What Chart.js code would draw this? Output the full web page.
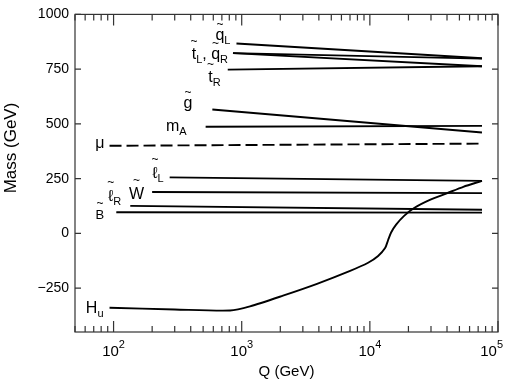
<!DOCTYPE html>
<html>
<head>
<meta charset="utf-8">
<script src="https://cdn.jsdelivr.net/npm/chart.js@4.4.0/dist/chart.umd.min.js"></script>
<style>
  html, body { margin: 0; padding: 0; background: #fff; }
  #wrap { width: 505px; height: 381px; }
</style>
</head>
<body>
<div id="wrap"><canvas id="massChart"></canvas></div>
<script>
  // running masses vs. scale Q
  const qL_Q = [910, 75000];
  const qL_M = [867, 800];
  const qR_Q = [855, 75000];
  const qR_M = [823, 798];
  const tL_Q = [855, 75000];
  const tL_M = [823, 763];
  const tR_Q = [778, 75000];
  const tR_M = [748, 763];
  const gluino_Q = [590, 75000];
  const gluino_M = [566, 461];
  const mA_Q = [523, 75000];
  const mA_M = [487, 491];
  const mu_Q = [93, 75000];
  const mu_M = [400, 410];
  const lL_Q = [274, 75000];
  const lL_M = [256, 240];
  const wino_Q = [200, 75000];
  const wino_M = [189, 184];
  const lR_Q = [135, 75000];
  const lR_M = [126, 108];
  const bino_Q = [105, 75000];
  const bino_M = [97, 95];
  const hu_Q = [93, 300, 811, 1160, 2100, 3870, 7015, 9690, 11600, 13150, 13870, 14650, 16030, 18500, 22150, 29400, 39800, 53600, 75000];
  const hu_M = [-339, -347, -352, -333, -284, -230, -171, -134, -103, -67, -31, 4, 40, 80, 116, 153, 183, 213, 240];

  const yTicks = [-250, 0, 250, 500, 750, 1000];
  const xDecades = [2, 3, 4, 5];

  const FONT = '"Liberation Sans", Arial, Helvetica, sans-serif';

  function pts(qs, ms) {
    return qs.map((q, i) => ({ x: q, y: ms[i] }));
  }

  function curve(name, qs, ms, extra) {
    return Object.assign({
      label: name,
      data: pts(qs, ms),
      borderColor: "#000",
      borderWidth: 1.9,
      pointRadius: 0,
      tension: 0,
      fill: false
    }, extra || {});
  }

  const datasets = [
    curve("qL", qL_Q, qL_M),
    curve("qR", qR_Q, qR_M),
    curve("tL", tL_Q, tL_M),
    curve("tR", tR_Q, tR_M),
    curve("gluino", gluino_Q, gluino_M),
    curve("mA", mA_Q, mA_M),
    curve("mu", mu_Q, mu_M, { borderDash: [12, 5] }),
    curve("lL", lL_Q, lL_M),
    curve("wino", wino_Q, wino_M),
    curve("lR", lR_Q, lR_M),
    curve("bino", bino_Q, bino_M),
    curve("Hu", hu_Q, hu_M, { tension: 0.25 })
  ];

  // labels next to the left end of each line: dx = right edge, dy = baseline (px)
  const curveLabels = [
    { ds: 0, dx: -6, dy: -4, parts: [{ t: "q", tilde: 12 }, { t: "L", sub: true }] },
    { ds: 1, dx: -5, dy: 6, parts: [{ t: "t", tilde: 14 }, { t: "L", sub: true }, { t: ", " }, { t: "q", tilde: 12 }, { t: "R", sub: true }] },
    { ds: 3, dx: -7, dy: 12, parts: [{ t: "t", tilde: 14 }, { t: "R", sub: true }] },
    { ds: 4, dx: -20, dy: -1, parts: [{ t: "g", tilde: 12 }] },
    { ds: 5, dx: -19, dy: 4, parts: [{ t: "m" }, { t: "A", sub: true }] },
    { ds: 6, dx: -5, dy: 2, parts: [{ t: "μ" }] },
    { ds: 7, dx: -6, dy: 1, parts: [{ t: "ℓ", tilde: 15 }, { t: "L", sub: true }] },
    { ds: 8, dx: -8, dy: 7, parts: [{ t: "W", tilde: 15 }] },
    { ds: 9, dx: -9, dy: -5, parts: [{ t: "ℓ", tilde: 15 }, { t: "R", sub: true }] },
    { ds: 10, dx: -12, dy: 7, size: 13, parts: [{ t: "B", tilde: 12 }] },
    { ds: 11, dx: -6, dy: 5, parts: [{ t: "H" }, { t: "u", sub: true }] }
  ];

  function drawLabel(ctx, parts, xRight, yBase, size) {
    const mainFont = (size || 16) + "px " + FONT;
    const subFont = "11px " + FONT;
    let total = 0;
    parts.forEach((p) => {
      ctx.font = p.sub ? subFont : mainFont;
      p.w = ctx.measureText(p.t).width;
      total += p.w;
    });
    let x = xRight - total;
    parts.forEach((p) => {
      ctx.font = p.sub ? subFont : mainFont;
      ctx.textAlign = "left";
      ctx.fillText(p.t, x, yBase + (p.sub ? 4 : 0));
      if (p.tilde) {
        ctx.font = "12px " + FONT;
        ctx.textAlign = "center";
        ctx.fillText("~", x + p.w / 2, yBase - p.tilde);
      }
      x += p.w;
    });
    ctx.textAlign = "left";
  }

  const framePlugin = {
    id: "frame",
    afterDraw(chart) {
      const ctx = chart.ctx;
      const area = chart.chartArea;
      const xs = chart.scales.x;
      const ys = chart.scales.y;
      ctx.save();
      ctx.strokeStyle = "#333";
      ctx.lineWidth = 1.2;
      ctx.strokeRect(area.left, area.top, area.right - area.left, area.bottom - area.top);

      ctx.beginPath();
      // y ticks, both sides, inward
      yTicks.forEach((v) => {
        const y = ys.getPixelForValue(v);
        ctx.moveTo(area.left, y);
        ctx.lineTo(area.left + 6, y);
        ctx.moveTo(area.right, y);
        ctx.lineTo(area.right - 6, y);
      });
      // x ticks, top and bottom, inward
      for (let k = 1; k <= 5; k++) {
        for (let m = 1; m <= 9; m++) {
          const q = m * Math.pow(10, k);
          if (q < xs.min || q > xs.max) continue;
          const x = xs.getPixelForValue(q);
          const len = m === 1 ? 11 : 6;
          ctx.moveTo(x, area.bottom);
          ctx.lineTo(x, area.bottom - len);
          ctx.moveTo(x, area.top);
          ctx.lineTo(x, area.top + len);
        }
      }
      ctx.stroke();

      ctx.fillStyle = "#000";
      ctx.textBaseline = "alphabetic";
      // x tick labels 10^k
      xDecades.forEach((k) => {
        const x = xs.getPixelForValue(Math.pow(10, k));
        ctx.font = "15px " + FONT;
        const w1 = ctx.measureText("10").width;
        ctx.font = "11px " + FONT;
        const w2 = ctx.measureText(String(k)).width;
        let x0 = x - (w1 + w2) / 2;
        x0 = Math.min(x0, chart.width - 2 - w1 - w2);
        ctx.font = "15px " + FONT;
        ctx.fillText("10", x0, 356);
        ctx.font = "11px " + FONT;
        ctx.fillText(String(k), x0 + w1, 348);
      });

      // axis titles
      ctx.font = "15px " + FONT;
      ctx.textAlign = "center";
      ctx.fillText("Q (GeV)", (area.left + area.right) / 2, 376);
      ctx.save();
      ctx.translate(16, 148);
      ctx.rotate(-Math.PI / 2);
      ctx.font = "17px " + FONT;
      ctx.fillText("Mass (GeV)", 0, 0);
      ctx.restore();
      ctx.textAlign = "left";

      // curve labels
      curveLabels.forEach((lab) => {
        const first = chart.getDatasetMeta(lab.ds).data[0];
        drawLabel(ctx, lab.parts, first.x + lab.dx, first.y + lab.dy, lab.size);
      });
      ctx.restore();
    }
  };

  new Chart(document.getElementById("massChart"), {
    type: "line",
    data: { datasets },
    options: {
      responsive: true,
      maintainAspectRatio: false,
      animation: false,
      devicePixelRatio: 1,
      layout: { padding: { left: 0, top: 8, right: 7, bottom: 0 } },
      plugins: {
        legend: { display: false },
        tooltip: { enabled: false },
        title: { display: false }
      },
      scales: {
        x: {
          type: "logarithmic",
          min: 50,
          max: 100000,
          grid: { display: false, drawTicks: false },
          border: { display: false },
          ticks: { display: false },
          afterFit: (s) => { s.height = 49; }
        },
        y: {
          type: "linear",
          min: -450,
          max: 1000,
          grid: { display: false, drawTicks: false },
          border: { display: false },
          afterBuildTicks: (s) => { s.ticks = yTicks.map((v) => ({ value: v })); },
          ticks: {
            color: "#000",
            padding: 6,
            font: { size: 14, family: FONT },
            callback: (v) => (v < 0 ? "\u2212" + Math.abs(v) : String(v))
          },
          afterFit: (s) => { s.width = 75; }
        }
      }
    },
    plugins: [framePlugin]
  });
</script>
</body>
</html>
